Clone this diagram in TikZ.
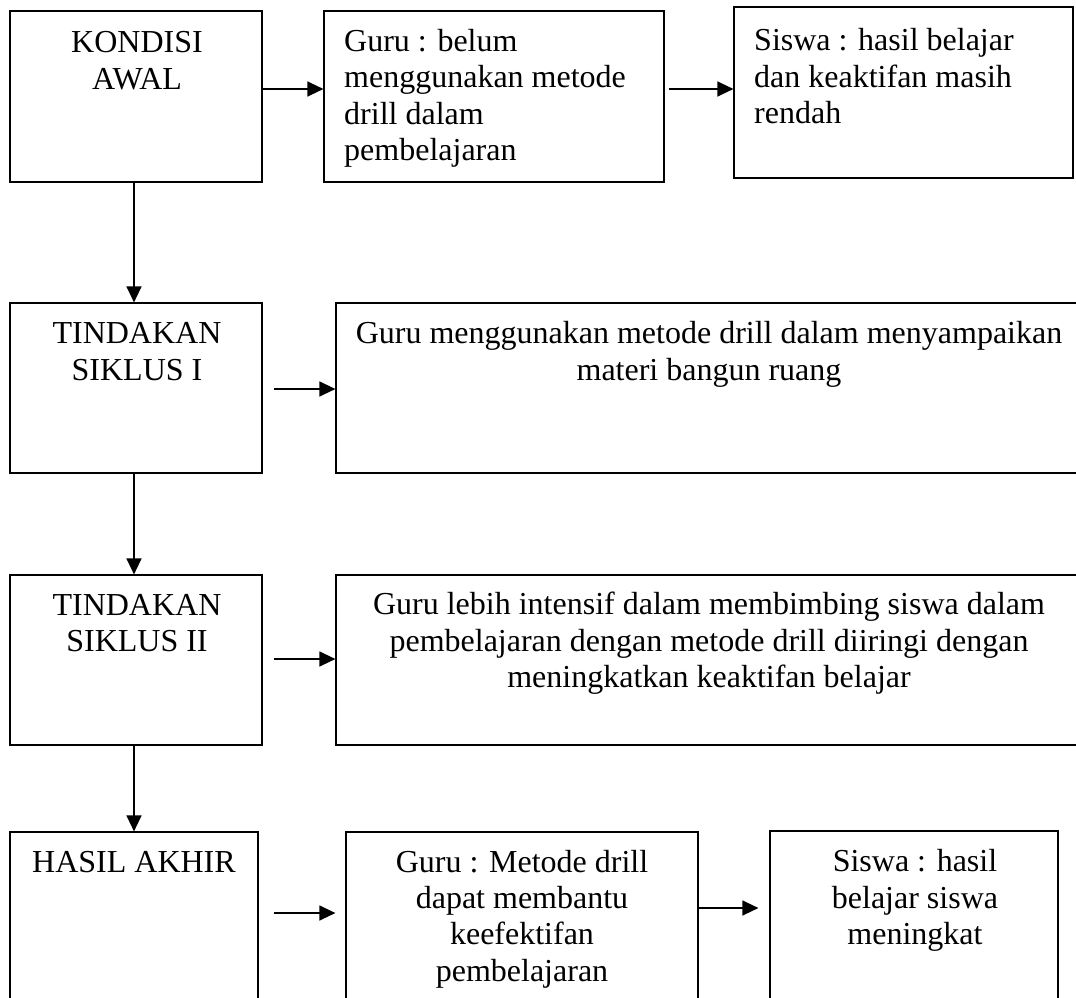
\documentclass[tikz,border=0pt]{standalone}
\usepackage{fontspec}
\setmainfont{Liberation Serif}
\usetikzlibrary{arrows.meta}
\begin{document}
\begin{tikzpicture}[x=1pt,y=-1pt,
  box/.style={draw=black,line width=1.2pt,inner sep=0pt},
  txt/.style={inner sep=0pt,anchor=base,font=\fontsize{32}{36.3}\selectfont},
  ltxt/.style={txt,align=left,anchor=base west},
  ctxt/.style={txt,align=center},
  arr/.style={line width=1.3pt,-{Triangle[length=16pt,width=15pt]}}]
\useasboundingbox (0,0) rectangle (1076,998);
% boxes
\node[box,minimum width=252pt,minimum height=171pt] (b1) at (136,96.5) {};
\node[box,minimum width=340pt,minimum height=171pt] (b2) at (494,96.5) {};
\node[box,minimum width=339pt,minimum height=171pt] (b3) at (903.5,92.5) {};
\node[box,minimum width=252pt,minimum height=170pt] (b4) at (136,388) {};
\node[box,minimum width=750pt,minimum height=170pt] (b5) at (711,388) {};
\node[box,minimum width=252pt,minimum height=170pt] (b6) at (136,660) {};
\node[box,minimum width=750pt,minimum height=170pt] (b7) at (711,660) {};
\node[box,minimum width=248pt,minimum height=180pt] (b8) at (134,922) {};
\node[box,minimum width=352pt,minimum height=180pt] (b9) at (522,922) {};
\node[box,minimum width=288pt,minimum height=181pt] (b10) at (914,921.5) {};
% texts (anchor = baseline of the last line)
\node[ctxt] (t1) at (137,89) {KONDISI\\AWAL};
\node[ltxt] (t2) at (344,160.5) {Guru : belum\\menggunakan metode\\drill dalam\\pembelajaran};
\node[ltxt] (t3) at (754,123.5) {Siswa : hasil belajar\\dan keaktifan masih\\rendah};
\node[ctxt] (t4) at (137,380) {TINDAKAN\\SIKLUS I};
\node[ctxt] (t5) at (709,380) {Guru menggunakan metode drill dalam menyampaikan\\materi bangun ruang};
\node[ctxt] (t6) at (137,651.5) {TINDAKAN\\SIKLUS II};
\node[ctxt] (t7) at (709,687.5) {Guru lebih intensif dalam membimbing siswa dalam\\pembelajaran dengan metode drill diiringi dengan\\meningkatkan keaktifan belajar};
\node[ctxt] (t8) at (134,872) {HASIL AKHIR};
\node[ctxt] (t9) at (522,981) {Guru : Metode drill\\dapat membantu\\keefektifan\\pembelajaran};
\node[ctxt] (t10) at (915,944.5) {Siswa : hasil\\belajar siswa\\meningkat};
% free ends
\coordinate (a4s) at (274,389);
\coordinate (a6s) at (274,659);
\coordinate (a8s) at (274,913);
% connectors
\draw[arr] (b1.east |- 0,89) -- (b2.west |- 0,89);
\draw[arr,shorten <=4pt] (b2.east |- 0,89) -- (b3.west |- 0,89);
\draw[arr] (b1.south -| 134,0) -- (b4.north -| 134,0);
\draw[arr] (b4.south -| 134,0) -- (b6.north -| 134,0);
\draw[arr] (b6.south -| 134,0) -- (b8.north -| 134,0);
\draw[arr] (a4s) -- (b5.west |- a4s);
\draw[arr] (a6s) -- (b7.west |- a6s);
\draw[arr,shorten >=10pt] (a8s) -- (b9.west |- a8s);
\draw[arr,shorten >=11pt] (b9.east |- 0,908) -- (b10.west |- 0,908);
\end{tikzpicture}
\end{document}
